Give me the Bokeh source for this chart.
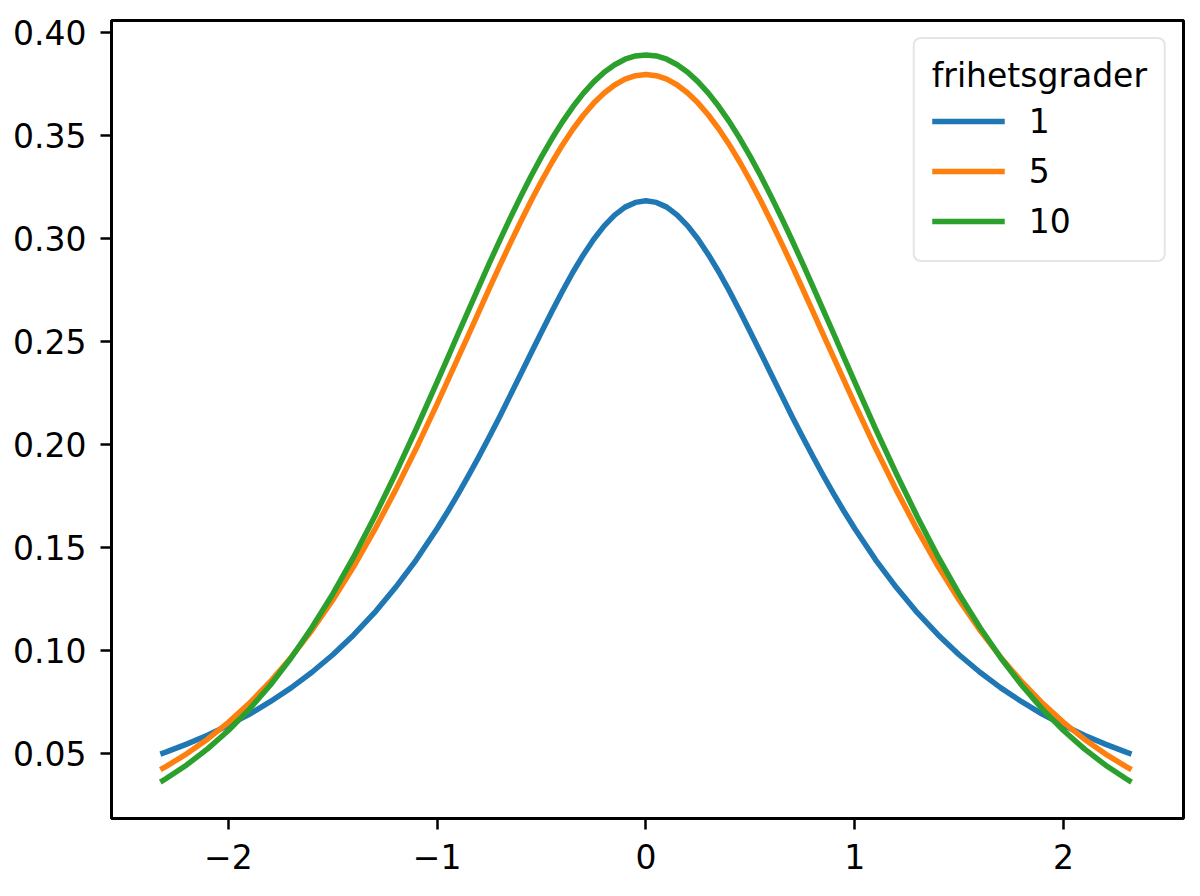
from bokeh.plotting import figure
from bokeh.models import Range1d, FixedTicker
from bokeh.embed import file_html
from bokeh.resources import INLINE

# values
x = [-2.326, -2.3, -2.2, -2.1, -2.0, -1.9, -1.8, -1.7, -1.6, -1.5, -1.4, -1.3,
     -1.2, -1.1, -1.0, -0.95, -0.9, -0.85, -0.8, -0.75, -0.7, -0.65, -0.6,
     -0.55, -0.5, -0.45, -0.4, -0.35, -0.3, -0.25, -0.2, -0.15, -0.1, -0.05,
     0.0, 0.05, 0.1, 0.15, 0.2, 0.25, 0.3, 0.35, 0.4, 0.45, 0.5, 0.55, 0.6,
     0.65, 0.7, 0.75, 0.8, 0.85, 0.9, 0.95, 1.0, 1.1, 1.2, 1.3, 1.4, 1.5, 1.6,
     1.7, 1.8, 1.9, 2.0, 2.1, 2.2, 2.3, 2.326]

df1 = [0.0497, 0.0506, 0.0545, 0.0588, 0.0637, 0.0690, 0.0751, 0.0818, 0.0894,
       0.0979, 0.1075, 0.1183, 0.1305, 0.1440, 0.1592, 0.1673, 0.1759, 0.1848,
       0.1941, 0.2037, 0.2136, 0.2238, 0.2341, 0.2444, 0.2546, 0.2647, 0.2744,
       0.2836, 0.2920, 0.2996, 0.3061, 0.3113, 0.3152, 0.3175, 0.3183,
       0.3175, 0.3152, 0.3113, 0.3061, 0.2996, 0.2920, 0.2836, 0.2744, 0.2647,
       0.2546, 0.2444, 0.2341, 0.2238, 0.2136, 0.2037, 0.1941, 0.1848, 0.1759,
       0.1673, 0.1592, 0.1440, 0.1305, 0.1183, 0.1075, 0.0979, 0.0894, 0.0818,
       0.0751, 0.0690, 0.0637, 0.0588, 0.0545, 0.0506, 0.0497]

df5 = [0.0421, 0.0436, 0.0498, 0.0569, 0.0651, 0.0743, 0.0848, 0.0966, 0.1098,
       0.1245, 0.1407, 0.1585, 0.1777, 0.1981, 0.2197, 0.2308, 0.2420, 0.2532,
       0.2645, 0.2757, 0.2868, 0.2976, 0.3081, 0.3183, 0.3279, 0.3370, 0.3454,
       0.3530, 0.3598, 0.3657, 0.3706, 0.3745, 0.3773, 0.3790, 0.3796,
       0.3790, 0.3773, 0.3745, 0.3706, 0.3657, 0.3598, 0.3530, 0.3454, 0.3370,
       0.3279, 0.3183, 0.3081, 0.2976, 0.2868, 0.2757, 0.2645, 0.2532, 0.2420,
       0.2308, 0.2197, 0.1981, 0.1777, 0.1585, 0.1407, 0.1245, 0.1098, 0.0966,
       0.0848, 0.0743, 0.0651, 0.0569, 0.0498, 0.0436, 0.0421]

df10 = [0.0361, 0.0377, 0.0444, 0.0522, 0.0611, 0.0714, 0.0831, 0.0963, 0.1111,
        0.1274, 0.1454, 0.1649, 0.1857, 0.2076, 0.2304, 0.2419, 0.2536, 0.2651,
        0.2766, 0.2880, 0.2991, 0.3099, 0.3203, 0.3303, 0.3397, 0.3485, 0.3566,
        0.3639, 0.3704, 0.3760, 0.3807, 0.3843, 0.3870, 0.3886, 0.3891,
        0.3886, 0.3870, 0.3843, 0.3807, 0.3760, 0.3704, 0.3639, 0.3566, 0.3485,
        0.3397, 0.3303, 0.3203, 0.3099, 0.2991, 0.2880, 0.2766, 0.2651, 0.2536,
        0.2419, 0.2304, 0.2076, 0.1857, 0.1649, 0.1454, 0.1274, 0.1111, 0.0963,
        0.0831, 0.0714, 0.0611, 0.0522, 0.0444, 0.0377, 0.0361]

series = [("1", df1, "#1f77b4"), ("5", df5, "#ff7f0e"), ("10", df10, "#2ca02c")]
xticks = [-2, -1, 0, 1, 2]
yticks = [0.05, 0.10, 0.15, 0.20, 0.25, 0.30, 0.35, 0.40]

FONT = "DejaVu Sans"
FS = "33px"

p = figure(width=1192, height=888, output_backend="svg", toolbar_location=None,
           x_range=Range1d(-2.56, 2.575), y_range=Range1d(0.0184, 0.4058),
           min_border_left=111, min_border_right=9, min_border_top=20,
           min_border_bottom=70)

for name, ys, col in series:
    p.line(x, ys, line_color=col, line_width=5.5, line_join="round",
           legend_label=name)

p.xgrid.visible = False
p.ygrid.visible = False
p.outline_line_color = "black"
p.outline_line_width = 3
p.outline_line_alpha = 1

for ax in (p.xaxis[0], p.yaxis[0]):
    ax.axis_line_color = None
    ax.major_tick_in = 0
    ax.major_tick_out = 11
    ax.major_tick_line_width = 2.5
    ax.minor_tick_line_color = None
    ax.major_label_text_font = FONT
    ax.major_label_text_font_size = FS
    ax.major_label_text_color = "black"

p.xaxis.major_label_standoff = 14
p.yaxis.major_label_standoff = 14
p.xaxis.ticker = FixedTicker(ticks=xticks)
p.xaxis.major_label_overrides = {t: (str(t).replace("-", "\u2212")) for t in xticks}
p.yaxis.ticker = FixedTicker(ticks=yticks)
p.yaxis.major_label_overrides = {t: "%.2f" % t for t in yticks}

lg = p.legend[0]
lg.location = "top_right"
lg.margin = 17
lg.title = "frihetsgrader"
lg.title_text_font = FONT
lg.title_text_font_size = FS
lg.title_text_font_style = "normal"
lg.title_text_color = "black"
lg.title_standoff = 4
lg.label_text_font = FONT
lg.label_text_font_size = FS
lg.label_text_color = "black"
lg.glyph_width = 73
lg.glyph_height = 44
lg.label_height = 44
lg.label_standoff = 24
lg.spacing = 6
lg.padding = 17
lg.border_line_color = "#cccccc"
lg.border_line_width = 2
lg.background_fill_alpha = 0.8
try:
    lg.border_radius = 8
except Exception:
    pass

open("out.html", "w").write(file_html(p, INLINE))
